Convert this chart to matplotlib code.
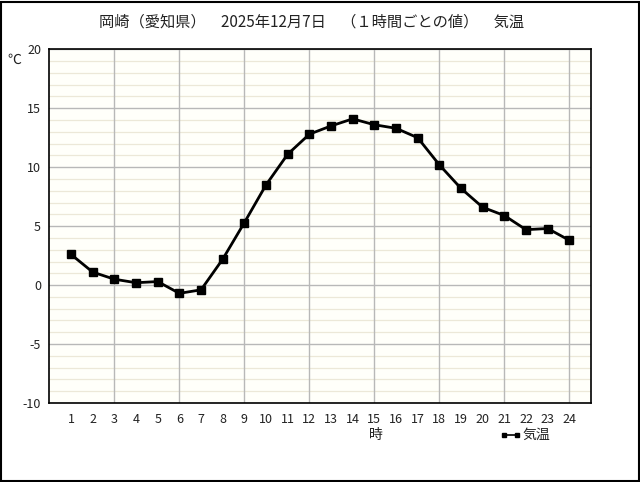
import matplotlib
matplotlib.use("Agg")
import matplotlib.pyplot as plt
from matplotlib.patches import Rectangle
from matplotlib.lines import Line2D

plt.rcParams['font.family'] = ['Noto Sans CJK JP', 'DejaVu Sans']

title = "岡崎（愛知県）　2025年12月7日　（１時間ごとの値）　気温"
hours = list(range(1, 25))
temps = [2.6, 1.1, 0.5, 0.2, 0.3, -0.7, -0.4, 2.2, 5.3, 8.5, 11.1, 12.8,
         13.5, 14.1, 13.6, 13.3, 12.5, 10.2, 8.2, 6.6, 5.9, 4.7, 4.8, 3.8]
yticks = [-10, -5, 0, 5, 10, 15, 20]
xlabel = "時"
ylabel = "℃"
legend_label = "気温"

fig = plt.figure(figsize=(6.4, 4.82), dpi=100)
fig.patch.set_facecolor('white')
ax = fig.add_axes([49.4/640, 1-403/482, (591-49.4)/640, (403-49.3)/482])
ax.set_facecolor('#FFFFFA')
ax.set_xlim(0, 25)
ax.set_ylim(-10, 20)

# minor horizontal grid
for v in range(-10, 21):
    if v % 5 != 0:
        ax.axhline(v, color='#ECE8D8', lw=0.9, zorder=1)
for v in yticks:
    ax.axhline(v, color='#B8B8B8', lw=1.0, zorder=1.5)
for h in range(3, 25, 3):
    ax.axvline(h, color='#B8B8B8', lw=1.0, zorder=1.5)

ax.plot(hours, temps, color='black', lw=2.0, marker='s', markersize=5.5,
        zorder=3, clip_on=False)

ax.set_xticks(hours)
ax.set_xticklabels([str(h) for h in hours])
ax.set_yticks(yticks)
ax.set_yticklabels([str(v) for v in yticks])
ax.tick_params(axis='both', length=0, labelsize=9, colors='#222222')
ax.tick_params(axis='x', pad=7)
ax.tick_params(axis='y', pad=6)
for s in ax.spines.values():
    s.set_color('black')
    s.set_linewidth(1.2)

fig.text(312/640, 1-22/482, title, ha='center', va='center', fontsize=11, color='#222222')
fig.text(14/640, 1-60/482, ylabel, ha='center', va='center', fontsize=10, color='#222222')
fig.text(376/640, 1-435/482, xlabel, ha='center', va='center', fontsize=10, color='#222222')

# legend
fig.add_artist(Line2D([504/640, 517/640], [1-435/482, 1-435/482], color='black', lw=1.2,
                      marker='s', markersize=2.5, transform=fig.transFigure))
fig.text(522/640, 1-435/482, legend_label, ha='left', va='center', fontsize=10, color='#222222')

# figure border
fig.add_artist(Rectangle((0.5/640, 1/482), 638/640, 479.5/482, transform=fig.transFigure,
                         fill=False, edgecolor='black', lw=1.5))

fig.savefig('out.png', dpi=100)
